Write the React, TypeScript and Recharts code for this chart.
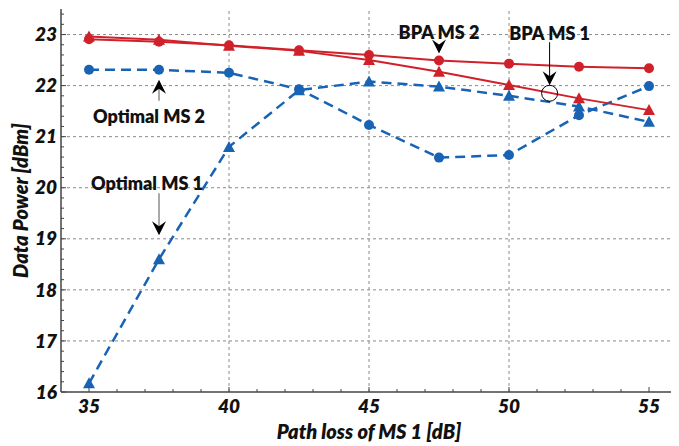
import React from 'react';
import { LineChart, Line, XAxis, YAxis, ReferenceLine, ReferenceDot } from 'recharts';

const pathLoss = [35, 37.5, 40, 42.5, 45, 47.5, 50, 52.5, 55];
const bpaMs2 = [22.91, 22.86, 22.79, 22.69, 22.6, 22.49, 22.43, 22.37, 22.34];
const bpaMs1 = [22.96, 22.9, 22.78, 22.68, 22.5, 22.27, 22.01, 21.75, 21.52];
const optimalMs2 = [22.31, 22.31, 22.25, 21.93, 21.23, 20.59, 20.64, 21.42, 21.99];
const optimalMs1 = [16.17, 18.6, 20.8, 21.91, 22.08, 21.98, 21.8, 21.59, 21.29];

const xMajorTicks = [35, 40, 45, 50, 55];
const xMinorTicks = [35, 36, 37, 38, 39, 40, 41, 42, 43, 44, 45, 46, 47, 48, 49, 50, 51, 52, 53, 54, 55];
const yMajorTicks = [16, 17, 18, 19, 20, 21, 22, 23];
const yMinorTicks = Array.from({ length: 38 }, (_, i) => Math.round((16 + i * 0.2) * 10) / 10);
const xGrid = [40, 45, 50];
const yGrid = [17, 18, 19, 20, 21, 22, 23];

const xTitle = 'Path loss of MS 1 [dB]';
const yTitle = 'Data Power [dBm]';

// annotation anchors (data coordinates)
const annBpaMs2 = { label: 'BPA MS 2', x: 47.5, y: 22.49 };
const annBpaMs1 = { label: 'BPA MS 1', x: 51.45, y: 21.85 };
const annOptMs2 = { label: 'Optimal MS 2', x: 37.5, y: 22.31 };
const annOptMs1 = { label: 'Optimal MS 1', x: 37.5, y: 18.6 };

const rows = pathLoss.map((x, i) => ({
  x,
  bpaMs2: bpaMs2[i],
  bpaMs1: bpaMs1[i],
  optimalMs2: optimalMs2[i],
  optimalMs1: optimalMs1[i],
}));

const RED = '#d0212a';
const BLUE = '#1863b3';
const AXIS = '#444';
const FONT = 'Lato, "Open Sans", sans-serif';

const isMajor = (v: number) => yMajorTicks.some((m) => Math.abs(v - m) < 1e-6);

const BottomTick = (p: any) => {
  const v = p.payload.value;
  const major = xMajorTicks.includes(v);
  return (
    <g>
      <line x1={p.x} x2={p.x} y1={p.y} y2={p.y - (major ? 5 : 3)} stroke={AXIS} strokeWidth={1} />
      {major && (
        <text x={p.x} y={p.y + 14} dy="0.35em" textAnchor="middle" fontFamily={FONT} fontWeight={800} fontStyle="italic" fontSize={19} fill="#111">
          {v}
        </text>
      )}
    </g>
  );
};

const TopTick = (p: any) => {
  const v = p.payload.value;
  const major = xMajorTicks.includes(v);
  return <line x1={p.x} x2={p.x} y1={p.y} y2={p.y + (major ? 5 : 3)} stroke={AXIS} strokeWidth={1} />;
};

const LeftTick = (p: any) => {
  const v = p.payload.value;
  const major = isMajor(v);
  return (
    <g>
      <line x1={p.x} x2={p.x + (major ? 5 : 3)} y1={p.y} y2={p.y} stroke={AXIS} strokeWidth={1} />
      {major && (
        <text x={p.x - 4} y={p.y} dy="0.35em" textAnchor="end" fontFamily={FONT} fontWeight={800} fontStyle="italic" fontSize={19} fill="#111">
          {v}
        </text>
      )}
    </g>
  );
};

const RightTick = (p: any) => {
  const v = p.payload.value;
  const major = isMajor(v);
  return <line x1={p.x} x2={p.x - (major ? 5 : 3)} y1={p.y} y2={p.y} stroke={AXIS} strokeWidth={1} />;
};

const Triangle = (p: any) => {
  const { cx, cy, fill } = p;
  if (cx == null || cy == null) return <g />;
  return <polygon points={`${cx},${cy - 6} ${cx - 6},${cy + 5} ${cx + 6},${cy + 5}`} fill={fill} stroke="none" />;
};

const arrowHead = (x: number, tipY: number, dir: 1 | -1) => {
  // dir 1: pointing down, -1: pointing up
  const back = tipY - dir * 14;
  const notch = tipY - dir * 9;
  return <path d={`M${x - 7},${back} L${x},${tipY} L${x + 7},${back} L${x},${notch} Z`} fill="#000" />;
};

const annText = (x: number, y: number, label: string) => (
  <text x={x} y={y} dy="0.35em" textAnchor="middle" fontFamily={FONT} fontWeight={800} fontSize={18} fill="#111">
    {label}
  </text>
);

const BpaMs2Shape = (p: any) => {
  const { cx, cy } = p;
  return (
    <g>
      {annText(cx, cy - 28, annBpaMs2.label)}
      {arrowHead(cx, cy - 7, 1)}
    </g>
  );
};

const BpaMs1Shape = (p: any) => {
  const { cx, cy } = p;
  return (
    <g>
      {annText(cx, cy - 60, annBpaMs1.label)}
      <line x1={cx} x2={cx} y1={cy - 51} y2={cy - 15} stroke="#000" strokeWidth={1} />
      {arrowHead(cx, cy - 8, 1)}
      <circle cx={cx} cy={cy} r={8} fill="none" stroke="#000" strokeWidth={1} />
    </g>
  );
};

const OptMs2Shape = (p: any) => {
  const { cx, cy } = p;
  return (
    <g>
      {annText(cx - 10, cy + 47, annOptMs2.label)}
      <line x1={cx} x2={cx} y1={cy + 31} y2={cy + 17} stroke="#555" strokeWidth={1} />
      {arrowHead(cx, cy + 10, -1)}
    </g>
  );
};

const OptMs1Shape = (p: any) => {
  const { cx, cy } = p;
  return (
    <g>
      {annText(cx - 12, cy - 76, annOptMs1.label)}
      <line x1={cx} x2={cx} y1={cy - 66} y2={cy - 31} stroke="#555" strokeWidth={1} />
      {arrowHead(cx, cy - 24, 1)}
    </g>
  );
};

const XTitle = (p: any) => {
  const vb = p.viewBox;
  return (
    <text x={vb.x + vb.width / 2} y={vb.y + 40} dy="0.35em" textAnchor="middle" fontFamily={FONT} fontWeight={800} fontStyle="italic" fontSize={20} fill="#111">
      {xTitle}
    </text>
  );
};

const YTitle = (p: any) => {
  const vb = p.viewBox;
  const cx = 13;
  const cy = vb.y + vb.height / 2;
  return (
    <text x={cx} y={cy} dy="0.35em" textAnchor="middle" transform={`rotate(-90, ${cx}, ${cy})`} fontFamily={FONT} fontWeight={800} fontStyle="italic" fontSize={20} fill="#111">
      {yTitle}
    </text>
  );
};

export default function App() {
  return (
    <LineChart width={671} height={438} data={rows} margin={{ top: 1, right: 1, bottom: 0, left: 0 }}>
      <XAxis
        xAxisId="b"
        dataKey="x"
        type="number"
        domain={[34, 56]}
        allowDataOverflow
        ticks={xMinorTicks}
        interval={0}
        tickSize={0}
        tickMargin={0}
        tickLine={false}
        tick={BottomTick}
        height={54}
        axisLine={{ stroke: AXIS, strokeWidth: 1.5 }}
        label={{ content: XTitle }}
      />
      <XAxis
        xAxisId="t"
        orientation="top"
        dataKey="x"
        type="number"
        domain={[34, 56]}
        allowDataOverflow
        ticks={xMinorTicks}
        interval={0}
        tickSize={0}
        tickMargin={0}
        tickLine={false}
        tick={TopTick}
        height={0}
        axisLine={{ stroke: AXIS, strokeWidth: 1.5 }}
      />
      <YAxis
        yAxisId="l"
        type="number"
        domain={[16, 23.5]}
        allowDataOverflow
        ticks={yMinorTicks}
        interval={0}
        tickSize={0}
        tickMargin={0}
        tickLine={false}
        tick={LeftTick}
        width={53}
        axisLine={{ stroke: AXIS, strokeWidth: 1.5 }}
        label={{ content: YTitle }}
      />
      <YAxis
        yAxisId="r"
        orientation="right"
        type="number"
        domain={[16, 23.5]}
        allowDataOverflow
        ticks={yMinorTicks}
        interval={0}
        tickSize={0}
        tickMargin={0}
        tickLine={false}
        tick={RightTick}
        width={1}
        axisLine={{ stroke: AXIS, strokeWidth: 1.5 }}
      />
      {xGrid.map((v) => (
        <ReferenceLine key={`gx${v}`} xAxisId="b" yAxisId="l" x={v} stroke="#8a8a8a" strokeDasharray="3 3" strokeWidth={1} />
      ))}
      {yGrid.map((v) => (
        <ReferenceLine key={`gy${v}`} xAxisId="b" yAxisId="l" y={v} stroke="#8a8a8a" strokeDasharray="3 3" strokeWidth={1} />
      ))}
      <Line xAxisId="b" yAxisId="l" dataKey="optimalMs2" stroke={BLUE} strokeWidth={2.5} strokeDasharray="10 6" dot={{ r: 5, fill: BLUE, stroke: 'none' }} isAnimationActive={false} />
      <Line xAxisId="b" yAxisId="l" dataKey="optimalMs1" stroke={BLUE} strokeWidth={2.5} strokeDasharray="10 6" dot={<Triangle fill={BLUE} />} isAnimationActive={false} />
      <Line xAxisId="b" yAxisId="l" dataKey="bpaMs1" stroke={RED} strokeWidth={2} dot={<Triangle fill={RED} />} isAnimationActive={false} />
      <Line xAxisId="b" yAxisId="l" dataKey="bpaMs2" stroke={RED} strokeWidth={2} dot={{ r: 5, fill: RED, stroke: 'none' }} isAnimationActive={false} />
      <ReferenceDot xAxisId="b" yAxisId="l" x={annBpaMs2.x} y={annBpaMs2.y} shape={BpaMs2Shape} ifOverflow="visible" />
      <ReferenceDot xAxisId="b" yAxisId="l" x={annBpaMs1.x} y={annBpaMs1.y} shape={BpaMs1Shape} ifOverflow="visible" />
      <ReferenceDot xAxisId="b" yAxisId="l" x={annOptMs2.x} y={annOptMs2.y} shape={OptMs2Shape} ifOverflow="visible" />
      <ReferenceDot xAxisId="b" yAxisId="l" x={annOptMs1.x} y={annOptMs1.y} shape={OptMs1Shape} ifOverflow="visible" />
    </LineChart>
  );
}
